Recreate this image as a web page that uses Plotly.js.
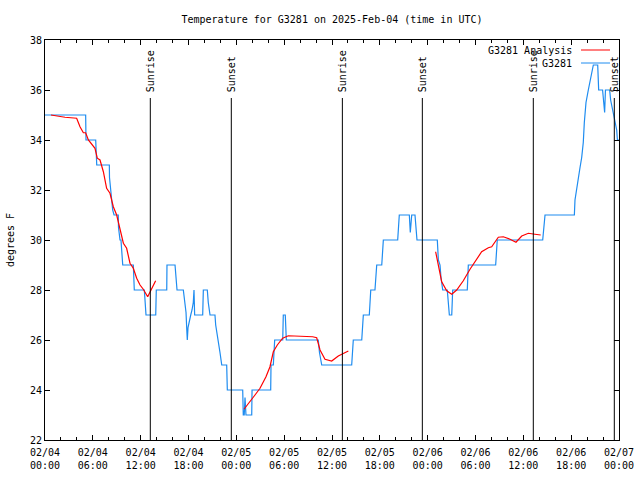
<!DOCTYPE html>
<html>
<head>
<meta charset="utf-8">
<script src="https://cdn.plot.ly/plotly-3.0.1.min.js"></script>
<style>html,body{margin:0;padding:0;background:#fff;}#chart{width:640px;height:480px;}</style>
</head>
<body>
<div id="chart"></div>
<script>
// Observations (G3281): hours after 2025-02-04 00:00 UTC and temperature (F)
const obsHours = [0,5.10,5.14,6.36,6.49,8.07,8.09,8.24,8.37,8.49,8.66,9.19,9.22,9.41,9.53,9.75,11.08,11.20,12.46,12.67,13.89,13.96,15.27,15.30,16.31,16.56,17.35,17.56,17.69,17.77,17.85,17.94,18.10,18.28,18.44,18.60,18.69,18.77,19.78,19.86,20.36,20.48,20.70,21.32,21.41,21.74,21.95,22.17,22.79,22.87,24.80,24.87,24.99,25.09,25.21,25.93,25.97,28.31,28.35,28.64,28.81,29.82,29.89,30.14,30.27,34.28,34.43,34.71,38.47,38.67,39.73,39.93,40.68,40.86,41.39,41.61,42.24,42.44,44.24,44.44,45.70,45.82,46.00,46.41,46.66,49.21,49.34,49.55,49.67,49.89,50.46,50.72,51.02,51.14,52.97,53.10,56.53,56.73,62.43,62.72,66.40,66.48,66.70,66.86,67.11,67.32,67.52,67.65,67.86,68.15,68.58,68.78,69.33,69.45,69.94,70.12,70.20,70.30,70.83,70.95,71.21,71.50,71.71,71.80,72.00];
const obsTemps = [35,35,34,34,33,33,32.5,32,31.8,31.2,31,31,30.5,30,30,29,29,28,28,27,27,28,28,29,29,28,28,27.5,27.1,26.5,26,26.5,26.8,27,27.2,27.5,28,27,27,28,28,27.5,27,27,26.6,26,25.5,25,25,24,24,23,23,23.7,23,23,24,24,25,25,26,26,27,27,26,26,25.5,25,25,26,26,27,27,28,28,29,29,30,30,31,31,30.3,31,31,30,30,29.2,29,28.5,28,28,27,27,28,28,29,29,30,30,31,31,31.6,32,32.4,32.9,33.3,33.9,34.7,35.5,36,36.7,37,37,36,36,35.1,35.1,36,36,35.6,35.2,34.8,34.4,34,34];

// Analysis: null separates segments
const anaHours = [0.75,2.51,3.97,4.39,4.81,5.10,5.44,5.85,6.27,6.56,6.90,7.32,7.73,8.15,8.57,8.99,9.41,9.83,10.24,10.66,11.08,11.50,11.92,12.33,12.88,13.30,13.88,null,
  24.96,25.63,26.34,26.97,27.72,28.22,28.64,29.14,29.81,30.52,31.36,32.40,33.58,34.08,34.50,35.12,35.96,36.79,38.05,null,
  49.00,49.34,49.76,50.39,51.02,51.64,52.47,53.31,54.35,54.77,55.61,56.03,56.86,57.49,58.33,59.08,59.80,60.63,61.46,62.18];
const anaTemps = [35.0,34.91,34.87,34.53,34.29,34.29,34.0,33.84,33.67,33.27,33.2,32.73,32.07,31.87,31.33,31.0,30.4,29.87,29.67,29.07,28.87,28.47,28.2,28.03,27.73,28.0,28.37,null,
  23.23,23.49,23.8,24.07,24.53,24.93,25.53,25.8,26.07,26.17,26.16,26.13,26.13,26.09,25.6,25.23,25.16,25.36,25.56,null,
  29.53,28.93,28.33,27.97,27.83,28.0,28.37,28.83,29.33,29.53,29.69,29.73,30.11,30.13,30.03,29.91,30.16,30.27,30.23,30.2];

const sunHours = [13.21,23.37,37.30,47.33,61.25,71.41];
const sunLabels = ["Sunrise","Sunset","Sunrise","Sunset","Sunrise","Sunset"];

const baseMs = Date.UTC(2025,1,4,0,0,0);
function toDate(h){
  if (h === null) return null;
  return new Date(baseMs + h*3600000).toISOString().slice(0,19).replace('T',' ');
}

const FONT = '"DejaVu Sans Mono", "Liberation Mono", monospace';
const traces = [
  {x: obsHours.map(toDate), y: obsTemps, type:'scatter', mode:'lines', name:'G3281',
   line:{color:'#1e8cf0', width:1.2}, hoverinfo:'skip'},
  {x: anaHours.map(toDate), y: anaTemps, type:'scatter', mode:'lines', name:'G3281 Analysis',
   line:{color:'#ff0000', width:1.2}, connectgaps:false, hoverinfo:'skip'}
];

const lineTop = (440-98)/400;
const shapes = sunHours.map(h => ({type:'line', xref:'x', yref:'paper', x0:toDate(h), x1:toDate(h), y0:0, y1:lineTop, line:{color:'#000', width:1}}));
const annotations = sunHours.map((h,i) => ({xref:'x', yref:'paper', x:toDate(h), y:(440-94)/400, text:sunLabels[i], textangle:-90, showarrow:false, xanchor:'center', yanchor:'bottom', font:{family:FONT, size:10, color:'#000'}}));

// legend (gnuplot style: text then sample)
const legendRows = [{t:'G3281 Analysis', c:'#ff0000', y:(440-50)/400},{t:'G3281', c:'#1e8cf0', y:(440-63)/400}];
legendRows.forEach(r => {
  annotations.push({xref:'paper', yref:'paper', x:(574-45)/574, y:r.y, text:r.t, showarrow:false, xanchor:'right', yanchor:'middle', font:{family:FONT, size:10, color:'#000'}});
  shapes.push({type:'line', xref:'paper', yref:'paper', x0:(581-45)/574, x1:(610-45)/574, y0:r.y, y1:r.y, line:{color:r.c, width:1}});
});

const layout = {
  width:640, height:480,
  margin:{l:45, r:21, t:40, b:40},
  paper_bgcolor:'#fff', plot_bgcolor:'#fff',
  showlegend:false,
  font:{family:FONT, size:10, color:'#000'},
  title:{text:'Temperature for G3281 on 2025-Feb-04 (time in UTC)', x:0.5, xref:'paper', y:1-19/480, yref:'container', yanchor:'middle', font:{family:FONT, size:10, color:'#000'}},
  xaxis:{type:'date', range:[toDate(0), toDate(72)], tick0:toDate(0), dtick:21600000, tickformat:'%m/%d<br>%H:%M',
    ticks:'inside', ticklen:5, tickcolor:'#000', showline:true, linecolor:'#000', linewidth:1, mirror:'allticks', showgrid:false, zeroline:false,
    ticklabelstandoff:3,
    minor:{dtick:7200000, ticks:'inside', ticklen:3, tickcolor:'#000', showgrid:false},
    tickfont:{family:FONT, size:10, color:'#000'}},
  yaxis:{range:[22,38], dtick:2, ticks:'inside', ticklen:5, tickcolor:'#000', showline:true, linecolor:'#000', linewidth:1, mirror:'allticks', showgrid:false, zeroline:false,
    title:{text:'degrees F', font:{family:FONT, size:10, color:'#000'}, standoff:13},
    tickfont:{family:FONT, size:10, color:'#000'}},
  shapes: shapes,
  annotations: annotations
};
Plotly.newPlot('chart', traces, layout, {displayModeBar:false, staticPlot:true});
</script>
</body>
</html>
